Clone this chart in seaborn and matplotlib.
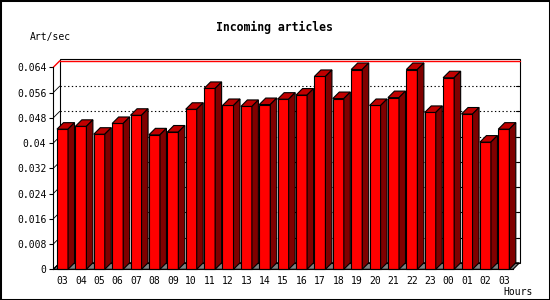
import matplotlib
matplotlib.use("Agg")
import matplotlib.pyplot as plt
from matplotlib.patches import Polygon, Rectangle
import seaborn as sns
import numpy as np

# ---- data ----
hours = ["03", "04", "05", "06", "07", "08", "09", "10", "11", "12", "13", "14",
         "15", "16", "17", "18", "19", "20", "21", "22", "23", "00", "01", "02", "03"]
values = [0.0444, 0.0453, 0.0428, 0.0462, 0.0488, 0.0426, 0.0435, 0.0507, 0.0573,
          0.0519, 0.0516, 0.0522, 0.0539, 0.0552, 0.0611, 0.0541, 0.0633, 0.0519,
          0.0544, 0.0633, 0.0497, 0.0607, 0.0492, 0.0403, 0.0444]
ytick_vals = [0, 0.008, 0.016, 0.024, 0.032, 0.04, 0.048, 0.056, 0.064]
ytick_labels = ["0", "0.008", "0.016", "0.024", "0.032", "0.04", "0.048", "0.056", "0.064"]
title = "Incoming articles"
ylabel = "Art/sec"
xlabel = "Hours"

sns.set_style("white")
plt.rcParams["font.family"] = ["DejaVu Sans Mono", "DejaVu Sans"]

W, H = 550, 300
fig = plt.figure(figsize=(W / 100, H / 100), dpi=100)
fig.patch.set_facecolor("white")
fig.patches.append(Rectangle((0, 0), 1, 1, transform=fig.transFigure, fill=False,
                             edgecolor="black", linewidth=2.2, zorder=10))

x_left, x_right = 53.3, 513.0
y_zero, y_top = 269.3, 67.3
ax = fig.add_axes([x_left / W, 1 - y_zero / H, (x_right - x_left) / W, (y_zero - y_top) / H])
ax.set_facecolor("none")

idx = list(range(len(values)))
sns.barplot(x=idx, y=values, color="#FF0000", saturation=1, width=0.6,
            edgecolor="black", linewidth=0.8, ax=ax, zorder=4)
ax.set_xlim(-0.5, len(values) - 0.5)
ax.set_ylim(0, 0.064)

# depth offsets in data units (~6.5 px)
px_x = (x_right - x_left) / len(values)
px_y = (y_zero - y_top) / 0.064
dx = 6.5 / px_x
dy = 6.5 / px_y

n = len(values)
xl, xr = -0.5, n - 0.5
ytop_wall = 0.064 + dy + 2 / px_y

# floor
ax.add_patch(Polygon([(xl, 0), (xr, 0), (xr + dx, dy), (xl + dx, dy)], closed=True,
                     facecolor="#808080", edgecolor="black", linewidth=0.8,
                     zorder=1, clip_on=False))
# back wall
ax.add_patch(Rectangle((xl + dx, dy), n, ytop_wall - dy, fill=False, edgecolor="black",
                       linewidth=0.8, zorder=1, clip_on=False))
# grid lines on back wall
for v in ytick_vals[1:-1]:
    ax.plot([xl + dx, xr + dx], [v + dy, v + dy], color="black", linestyle=(0, (1.2, 2.2)),
            linewidth=0.8, zorder=1.5, clip_on=False)
    ax.plot([xr + dx - 4 / px_x, xr + dx], [v + dy, v + dy], color="black",
            linewidth=0.8, zorder=1.5, clip_on=False)
    ax.plot([xl, xl + dx], [v, v + dy], color="black", linewidth=0.6, zorder=1.5, clip_on=False)
# top red line
ax.plot([xl + dx, xr + dx], [0.064 + dy, 0.064 + dy], color="#FF0000", linewidth=1.0,
        zorder=1.6, clip_on=False)
ax.plot([xl, xl + dx], [0.064, 0.064 + dy], color="#FF0000", linewidth=1.0,
        zorder=1.6, clip_on=False)
ax.plot([xl, xl + dx], [0, dy], color="black", linewidth=0.8, zorder=1.6, clip_on=False)

# 3D faces of bars
for p in list(ax.patches):
    if not isinstance(p, Rectangle) or p.get_width() > 1:
        continue
    x0, w, h = p.get_x(), p.get_width(), p.get_height()
    p.set_clip_on(False)
    top = Polygon([(x0, h), (x0 + w, h), (x0 + w + dx, h + dy), (x0 + dx, h + dy)],
                  closed=True, facecolor="#C00000", edgecolor="black", linewidth=0.8,
                  zorder=4, clip_on=False)
    side = Polygon([(x0 + w, 0), (x0 + w + dx, dy), (x0 + w + dx, h + dy), (x0 + w, h)],
                   closed=True, facecolor="#800000", edgecolor="black", linewidth=0.8,
                   zorder=4, clip_on=False)
    ax.add_patch(top)
    ax.add_patch(side)

# spines
for s in ["top", "right"]:
    ax.spines[s].set_visible(False)
for s in ["left", "bottom"]:
    ax.spines[s].set_color("black")
    ax.spines[s].set_linewidth(0.8)
    ax.spines[s].set_zorder(5)

# ticks
ax.set_xticks(np.arange(-0.5, n, 1.0))
ax.set_xticklabels([""] * (n + 1))
ax.set_xticks(idx, minor=True)
ax.set_xticklabels(hours, minor=True)
ax.tick_params(axis="x", which="major", direction="out", length=3, width=0.8, color="black")
ax.tick_params(axis="x", which="minor", length=0, pad=5, labelsize=7, labelcolor="black")
ax.set_yticks(ytick_vals)
ax.set_yticklabels(ytick_labels)
ax.tick_params(axis="y", direction="out", length=3, width=0.8, color="black", pad=2,
               labelsize=7, labelcolor="black", left=True)
ax.set_xlabel("")
ax.set_ylabel("")

fig.text(274 / W, 1 - 27 / H, title, ha="center", va="center", fontsize=8.3,
         fontweight="bold", color="black")
fig.text(30 / W, 1 - 37 / H, ylabel, ha="left", va="center", fontsize=7, color="black")
fig.text(533 / W, 1 - 292 / H, xlabel, ha="right", va="center", fontsize=7, color="black")

fig.savefig("out.png", dpi=100)
